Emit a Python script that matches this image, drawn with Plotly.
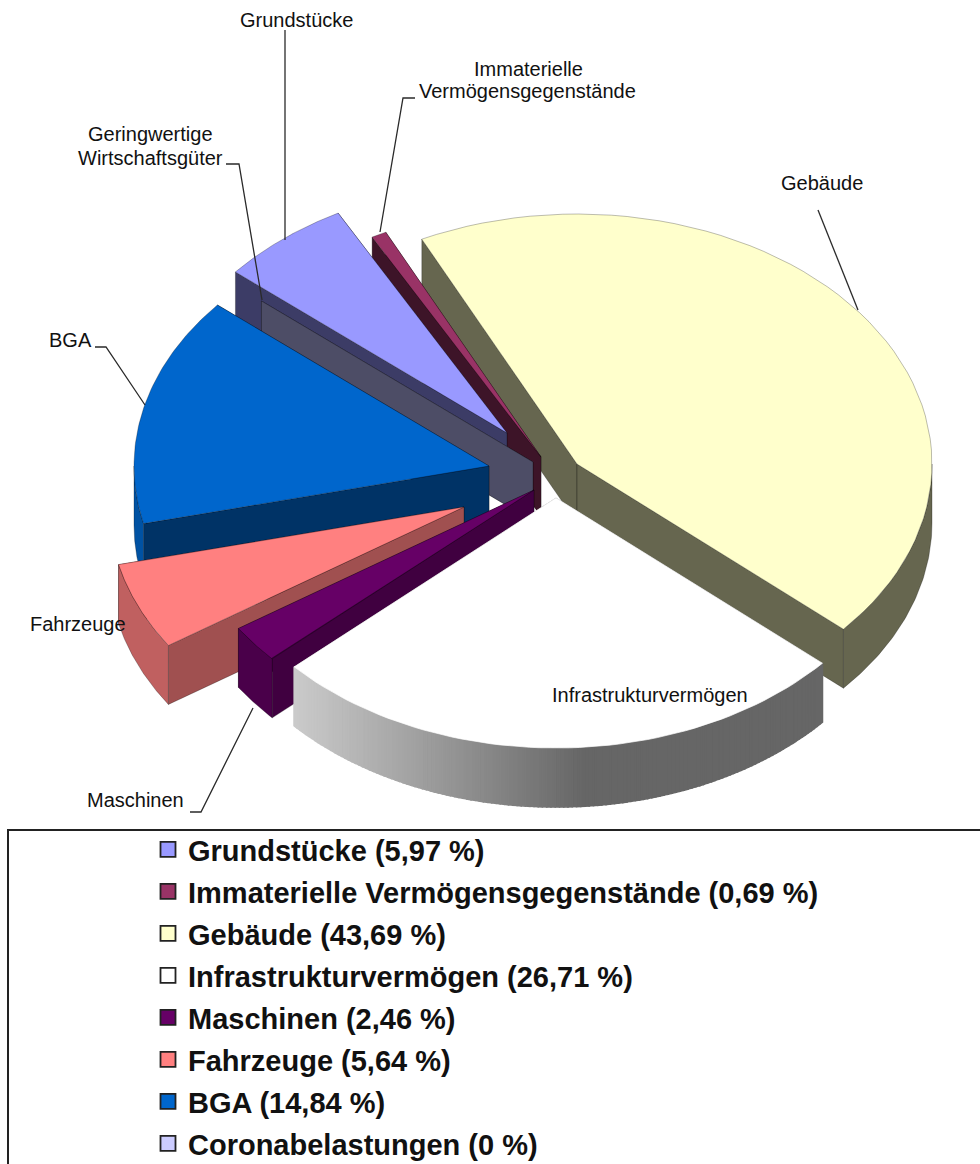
import math
import plotly.graph_objects as go

# ---------- data ----------
categories = ["Grundstücke", "Immaterielle Vermögensgegenstände", "Gebäude", "Infrastrukturvermögen",
              "Maschinen", "Fahrzeuge", "BGA", "Coronabelastungen", "Geringwertige Wirtschaftsgüter"]
values = [5.97, 0.69, 43.69, 26.71, 2.46, 5.64, 14.84, 0.0, 0.0]
top_colors = ["#9999FF", "#993366", "#FFFFCC", "#FFFFFF", "#660066", "#FF8080", "#0066CC", "#CCCCFF", "#9999CC"]
cut_colors = ["#3C3C66", "#3D1428", "#66664F", "#666666", "#400040", "#A05050", "#003366", "#50506A", "#4D4D66"]
rim_colors = ["#3C3C66", "#3D1428", "#66664F", "#666666", "#4A004A", "#C06060", "#0052A3", "#50506A", "#4D4D66"]
legend_skip = ["Geringwertige Wirtschaftsgüter"]

# ---------- projection of the tilted, exploded pie (pixel-scaled axes) ----------
START_DEG, RX, RY, DEPTH = -49.9, 355, 250, 59
apex = {"Grundstücke": (507, 433), "Immaterielle Vermögensgegenstände": (541, 457), "Gebäude": (577, 464),
        "Infrastrukturvermögen": (556, 498), "Maschinen": (534, 490), "Fahrzeuge": (464, 507),
        "BGA": (489, 466), "Geringwertige Wirtschaftsgüter": (533, 462)}
paint_order = ["Gebäude", "Immaterielle Vermögensgegenstände", "Grundstücke", "Geringwertige Wirtschaftsgüter",
               "BGA", "Fahrzeuge", "Maschinen", "Infrastrukturvermögen"]
EDGE = "rgba(0,0,0,0.38)"

angles, acc = {}, START_DEG
for name, v in zip(categories, values):
    angles[name] = (acc, acc + v * 3.6)
    acc += v * 3.6

fig = go.Figure()


def poly(xs, ys, fill, line=EDGE, width=0.7):
    fig.add_trace(go.Scatter(x=xs, y=ys, mode="lines", fill="toself", fillcolor=fill,
                             line=dict(color=line, width=width), hoverinfo="skip", showlegend=False))


def rim_pt(c, t, dz=0):
    r = math.radians(t)
    return c[0] + RX * math.sin(r), c[1] - RY * math.cos(r) + dz


def arc(c, a0, a1, dz=0, n=60):
    pts = [rim_pt(c, a0 + (a1 - a0) * i / n, dz) for i in range(n + 1)]
    return [p[0] for p in pts], [p[1] for p in pts]


for name in paint_order:
    i = categories.index(name)
    c = apex[name]
    a0, a1 = angles[name]
    # flat cut walls, the one further back first
    for t in sorted((a0, a1), key=lambda a: rim_pt(c, a)[1]):
        px, py = rim_pt(c, t)
        poly([c[0], px, px, c[0], c[0]], [c[1], py, py + DEPTH, c[1] + DEPTH, c[1]], cut_colors[i])
    # outer rim wall: only the part of the rim that faces the viewer
    r0, r1 = max(a0, 90), min(a1, 270)
    if name == "Infrastrukturvermögen":
        n = 140
        for k in range(n):
            t0 = r0 + (r1 - r0) * k / n
            t1 = r0 + (r1 - r0) * (k + 1) / n
            x0, y0 = rim_pt(c, t0)
            x1, y1 = rim_pt(c, t1)
            shade = int(max(102, 203 - max(0, (x1 + x0) / 2 - 295) * 101 / 290))
            col = f"rgb({shade},{shade},{shade})"
            poly([x0, x1, x1, x0, x0], [y0, y1, y1 + DEPTH, y0 + DEPTH, y0], col, line=col, width=1.6)
    elif r1 > r0:
        ux, uy = arc(c, r0, r1)
        lx, ly = arc(c, r0, r1, DEPTH)
        poly(ux + lx[::-1] + [ux[0]], uy + ly[::-1] + [uy[0]], rim_colors[i])
    # top face
    if a1 > a0:
        ux, uy = arc(c, a0, a1)
        is_white = name == "Infrastrukturvermögen"
        poly([c[0]] + ux + [c[0]], [c[1]] + uy + [c[1]], top_colors[i],
             line="#FFFFFF" if is_white else EDGE, width=0.7)

# ---------- leader lines ----------
leaders = [
    ([285, 285], [30, 240]),
    ([415, 403, 380], [98, 98, 232]),
    ([226, 239, 262], [164, 164, 300]),
    ([95, 106, 145], [347, 347, 405]),
    ([818, 858], [210, 310]),
    ([190, 201, 253], [812, 812, 708]),
]
for lx, ly in leaders:
    fig.add_trace(go.Scatter(x=lx, y=ly, mode="lines", line=dict(color="#2A2A2A", width=1.3),
                             hoverinfo="skip", showlegend=False))

# ---------- legend ----------
for name, v, col in zip(categories, values, top_colors):
    if name in legend_skip:
        continue
    txt = f"{v:.2f}".replace(".", ",") if v else "0"
    fig.add_trace(go.Scatter(x=[None], y=[None], mode="markers", name=f"{name} ({txt} %)", legendgroup=name,
                             marker=dict(symbol="square", size=15, color=col, line=dict(color="#222222", width=1.8))))

labels = [
    ("Grundstücke", 296, 20), ("Immaterielle", 528, 69), ("Vermögensgegenstände", 527, 91), ("Gebäude", 822, 183),
    ("Geringwertige", 150, 134), ("Wirtschaftsgüter", 150, 158), ("BGA", 70, 340), ("Fahrzeuge", 78, 624),
    ("Infrastrukturvermögen", 650, 695), ("Maschinen", 135, 800),
]
fig.update_layout(
    width=980, height=1164, margin=dict(l=0, r=0, t=0, b=0, autoexpand=False),
    paper_bgcolor="white", plot_bgcolor="white",
    xaxis=dict(range=[0, 980], visible=False, fixedrange=True),
    yaxis=dict(range=[1164, 0], visible=False, fixedrange=True),
    showlegend=True,
    legend=dict(x=148 / 980, xanchor="left", y=1 - 824 / 1164, yanchor="top", bgcolor="rgba(0,0,0,0)",
                font=dict(family="Liberation Sans", size=29, color="#111111", weight="bold"),
                tracegroupgap=1.3, itemwidth=30, traceorder="grouped"),
    shapes=[dict(type="rect", xref="x", yref="y", x0=8, y0=830, x1=1010, y1=1210,
                 line=dict(color="#222222", width=2))],
    annotations=[dict(text=t, x=x, y=y, xref="x", yref="y", showarrow=False,
                      font=dict(family="Liberation Sans", size=20, color="#111111"), align="center")
                 for t, x, y in labels],
)
fig.write_html("out.html", post_script="document.body.style.margin='0';",
               config=dict(displayModeBar=False))
